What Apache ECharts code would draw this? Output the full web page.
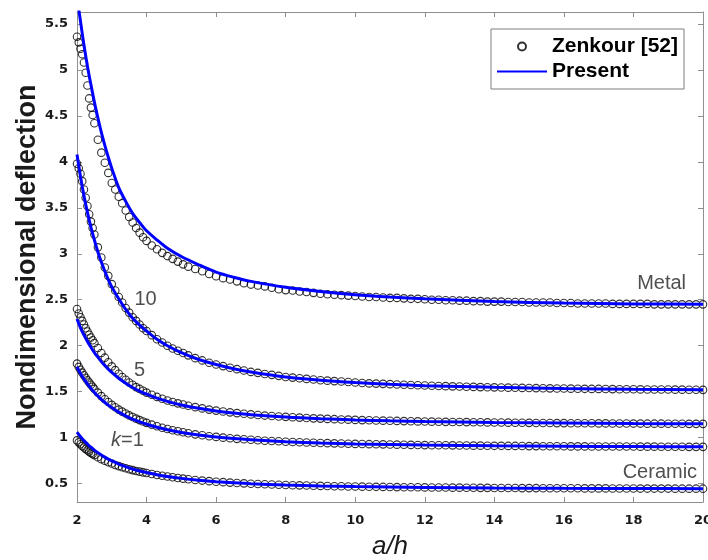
<!DOCTYPE html>
<html>
<head>
<meta charset="utf-8">
<script src="https://cdn.jsdelivr.net/npm/echarts@6/dist/echarts.min.js"></script>
<style>
  html, body { margin: 0; padding: 0; background: #fff; }
  #chart { width: 708px; height: 560px; }
</style>
</head>
<body>
<div id="chart"></div>
<script>
// a/h positions of the Zenkour [52] markers (shared by all five curves)
const markerX = [
  2, 2.05, 2.1, 2.15, 2.2, 2.25, 2.3, 2.35, 2.4, 2.45, 2.5,
  2.6, 2.7, 2.8, 2.9, 3, 3.1, 3.2, 3.3, 3.4, 3.5, 3.6, 3.7, 3.8, 3.9, 4,
  4.15, 4.3, 4.45, 4.6, 4.75, 4.9, 5.05, 5.2,
  5.4, 5.6, 5.8, 6, 6.2, 6.4, 6.6, 6.8, 7, 7.2,
  7.4, 7.6, 7.8, 8, 8.2, 8.4, 8.6, 8.8, 9, 9.2,
  9.4, 9.6, 9.8, 10, 10.2, 10.4, 10.6, 10.8, 11, 11.2,
  11.4, 11.6, 11.8, 12, 12.2, 12.4, 12.6, 12.8, 13, 13.2,
  13.4, 13.6, 13.8, 14, 14.2, 14.4, 14.6, 14.8, 15, 15.2,
  15.4, 15.6, 15.8, 16, 16.2, 16.4, 16.6, 16.8, 17, 17.2,
  17.4, 17.6, 17.8, 18, 18.2, 18.4, 18.6, 18.8, 19, 19.2,
  19.4, 19.6, 19.8, 20
]

const metalPts = [
  5.36, 5.30, 5.23, 5.17, 5.08, 4.97, 4.83, 4.69, 4.59, 4.51, 4.42,
  4.24, 4.10, 3.99, 3.88, 3.77, 3.70, 3.62, 3.55, 3.47, 3.40, 3.34, 3.28, 3.23, 3.18, 3.14,
  3.09, 3.05, 3.01, 2.975, 2.945, 2.915, 2.885, 2.86,
  2.835, 2.81, 2.78, 2.755, 2.735, 2.72, 2.70, 2.68, 2.665, 2.655,
  2.645, 2.63, 2.615, 2.605, 2.60, 2.59, 2.585, 2.575, 2.565, 2.56,
  2.555, 2.55, 2.545, 2.54, 2.535, 2.53, 2.53, 2.525, 2.52, 2.52,
  2.515, 2.51, 2.51, 2.505, 2.50, 2.50, 2.495, 2.495, 2.49, 2.49,
  2.485, 2.485, 2.48, 2.48, 2.48, 2.475, 2.475, 2.475, 2.47, 2.47,
  2.47, 2.47, 2.465, 2.465, 2.465, 2.46, 2.46, 2.46, 2.46, 2.46,
  2.455, 2.455, 2.455, 2.455, 2.455, 2.455, 2.45, 2.45, 2.45, 2.45,
  2.45, 2.45, 2.45, 2.45
]

const k10Pts = [
  3.98, 3.93, 3.87, 3.79, 3.70, 3.61, 3.52, 3.43, 3.35, 3.28, 3.21,
  3.07, 2.96, 2.85, 2.76, 2.67, 2.60, 2.53, 2.47, 2.41, 2.36, 2.31, 2.27, 2.23, 2.19, 2.16,
  2.115, 2.07, 2.035, 2.00, 1.97, 1.945, 1.92, 1.895,
  1.865, 1.84, 1.815, 1.795, 1.778, 1.76, 1.745, 1.73, 1.715, 1.705,
  1.693, 1.683, 1.672, 1.66, 1.653, 1.646, 1.639, 1.632, 1.625, 1.62,
  1.615, 1.61, 1.605, 1.60, 1.595, 1.59, 1.588, 1.585, 1.582, 1.578,
  1.575, 1.572, 1.57, 1.567, 1.565, 1.562, 1.56, 1.558, 1.556, 1.554,
  1.552, 1.55, 1.549, 1.547, 1.545, 1.544, 1.543, 1.541, 1.54, 1.539,
  1.538, 1.536, 1.535, 1.534, 1.533, 1.532, 1.531, 1.53, 1.53, 1.529,
  1.528, 1.527, 1.527, 1.526, 1.525, 1.524, 1.524, 1.523, 1.523, 1.522,
  1.522, 1.521, 1.521, 1.52
]

const k5Pts = [
  2.40, 2.35, 2.31, 2.27, 2.23, 2.19, 2.155, 2.12, 2.09, 2.06, 2.03,
  1.975, 1.92, 1.87, 1.82, 1.775, 1.735, 1.695, 1.66, 1.63, 1.60, 1.575, 1.55, 1.53, 1.51, 1.49,
  1.466, 1.443, 1.423, 1.404, 1.388, 1.373, 1.36, 1.347,
  1.332, 1.318, 1.305, 1.294, 1.284, 1.275, 1.267, 1.26, 1.253, 1.246,
  1.24, 1.235, 1.23, 1.226, 1.222, 1.218, 1.214, 1.21, 1.207, 1.204,
  1.201, 1.198, 1.196, 1.193, 1.191, 1.189, 1.187, 1.185, 1.183, 1.182,
  1.18, 1.178, 1.177, 1.175, 1.174, 1.173, 1.172, 1.171, 1.17, 1.169,
  1.168, 1.167, 1.166, 1.165, 1.164, 1.163, 1.162, 1.162, 1.161, 1.16,
  1.16, 1.159, 1.158, 1.158, 1.157, 1.157, 1.156, 1.156, 1.155, 1.155,
  1.154, 1.154, 1.154, 1.153, 1.153, 1.152, 1.152, 1.152, 1.151, 1.151,
  1.151, 1.15, 1.15, 1.15
]

const k2Pts = [
  1.805, 1.77, 1.738, 1.707, 1.678, 1.651, 1.625, 1.60, 1.576, 1.553, 1.53,
  1.49, 1.452, 1.418, 1.387, 1.357, 1.33, 1.305, 1.283, 1.262, 1.242, 1.224, 1.207, 1.191, 1.176, 1.161,
  1.142, 1.124, 1.108, 1.094, 1.081, 1.069, 1.058, 1.048,
  1.036, 1.026, 1.016, 1.008, 1.00, 0.993, 0.987, 0.982, 0.977, 0.972,
  0.967, 0.963, 0.96, 0.956, 0.953, 0.95, 0.947, 0.945, 0.942, 0.94,
  0.938, 0.936, 0.934, 0.932, 0.931, 0.929, 0.928, 0.927, 0.925, 0.924,
  0.923, 0.921, 0.92, 0.919, 0.918, 0.917, 0.917, 0.916, 0.915, 0.914,
  0.913, 0.913, 0.912, 0.911, 0.911, 0.91, 0.91, 0.909, 0.908, 0.908,
  0.907, 0.907, 0.906, 0.906, 0.905, 0.905, 0.905, 0.904, 0.904, 0.904,
  0.903, 0.903, 0.903, 0.903, 0.902, 0.902, 0.902, 0.901, 0.901, 0.901,
  0.901, 0.90, 0.90, 0.90
]

const ceramicPts = [
  0.97, 0.949, 0.928, 0.909, 0.893, 0.877, 0.862, 0.848, 0.834, 0.822, 0.81,
  0.787, 0.766, 0.748, 0.732, 0.718, 0.703, 0.69, 0.678, 0.667, 0.657, 0.647, 0.638, 0.63, 0.622, 0.615,
  0.604, 0.594, 0.585, 0.577, 0.569, 0.561, 0.554, 0.548,
  0.54, 0.533, 0.527, 0.521, 0.516, 0.511, 0.507, 0.503, 0.499, 0.496,
  0.493, 0.49, 0.488, 0.485, 0.483, 0.481, 0.479, 0.477, 0.475, 0.474,
  0.472, 0.471, 0.469, 0.468, 0.467, 0.466, 0.465, 0.464, 0.463, 0.462,
  0.461, 0.46, 0.46, 0.459, 0.458, 0.457, 0.457, 0.456, 0.456, 0.455,
  0.455, 0.454, 0.454, 0.453, 0.453, 0.452, 0.452, 0.451, 0.451, 0.451,
  0.45, 0.45, 0.45, 0.449, 0.449, 0.449, 0.448, 0.448, 0.448, 0.448,
  0.447, 0.447, 0.447, 0.447, 0.446, 0.446, 0.446, 0.446, 0.446, 0.445,
  0.445, 0.445, 0.445, 0.445
]

// a/h positions for the "Present" curves
const lineX = [
  2, 2.1, 2.2, 2.3, 2.4, 2.5, 2.6, 2.7, 2.8, 2.9, 3,
  3.2, 3.4, 3.6, 3.8, 4, 4.3, 4.6, 5, 5.5, 6, 6.5, 7,
  8, 9, 10, 11, 12, 14, 16, 18, 20
]

const metalLine = [
  5.80, 5.53, 5.27, 5.04, 4.84, 4.65, 4.48, 4.32, 4.18, 4.05, 3.93,
  3.72, 3.57, 3.44, 3.34, 3.25, 3.15, 3.06, 2.97, 2.88, 2.80, 2.745, 2.70,
  2.635, 2.59, 2.555, 2.53, 2.51, 2.48, 2.465, 2.455, 2.45
]
const k10Line = [
  4.08, 3.84, 3.63, 3.45, 3.29, 3.15, 3.02, 2.91, 2.81, 2.72, 2.64,
  2.51, 2.395, 2.30, 2.225, 2.16, 2.07, 2.00, 1.925, 1.85, 1.795, 1.75, 1.715,
  1.66, 1.625, 1.60, 1.58, 1.565, 1.547, 1.534, 1.526, 1.52
]
const k5Line = [
  2.29, 2.195, 2.117, 2.047, 1.983, 1.926, 1.875, 1.827, 1.784, 1.745, 1.709,
  1.646, 1.592, 1.546, 1.507, 1.473, 1.43, 1.394, 1.356, 1.319, 1.29, 1.268, 1.25,
  1.224, 1.206, 1.193, 1.183, 1.175, 1.165, 1.158, 1.153, 1.15
]
const k2Line = [
  1.77, 1.698, 1.638, 1.585, 1.536, 1.492, 1.453, 1.417, 1.384, 1.354, 1.327,
  1.278, 1.237, 1.202, 1.173, 1.146, 1.113, 1.086, 1.057, 1.029, 1.007, 0.99, 0.977,
  0.956, 0.942, 0.932, 0.925, 0.919, 0.911, 0.906, 0.903, 0.90
]
const ceramicLine = [
  1.06, 1.011, 0.968, 0.931, 0.896, 0.865, 0.837, 0.811, 0.788, 0.767, 0.748,
  0.713, 0.684, 0.659, 0.638, 0.62, 0.596, 0.577, 0.557, 0.537, 0.521, 0.509, 0.499,
  0.485, 0.475, 0.468, 0.463, 0.459, 0.453, 0.449, 0.447, 0.445
]

const yTicks = [0.5, 1, 1.5, 2, 2.5, 3, 3.5, 4, 4.5, 5, 5.5]

// curve labels placed in data coordinates [text, a/h, deflection]
const notes = [
  ['Metal', 18.81, 2.68],
  ['Ceramic', 18.76, 0.62],
  ['10', 3.97, 2.5],
  ['5', 3.8, 1.73],
  ['k=1', 3.45, 0.97]
]

const zip = (xa, ya) => xa.map((x, i) => [x, ya[i]])

const axisGray = '#8f8f8f'
const tickFont = { fontFamily: 'DejaVu Sans', fontWeight: 'bold', fontSize: 13, color: '#1a1a1a' }

const dotSeries = [metalPts, k10Pts, k5Pts, k2Pts, ceramicPts].map(ys => ({
  type: 'scatter',
  name: 'Zenkour [52]',
  data: zip(markerX, ys),
  symbol: 'circle',
  symbolSize: 7.5,
  itemStyle: { color: 'rgba(0,0,0,0)', borderColor: '#000', borderWidth: 1.1 },
  silent: true,
  z: 2,
}))

const lineSeries = [metalLine, k10Line, k5Line, k2Line, ceramicLine].map(ys => ({
  type: 'line',
  name: 'Present',
  data: zip(lineX, ys),
  symbol: 'none',
  smooth: 0.3,
  color: '#0000ff',
  lineStyle: { color: '#0000ff', width: 3 },
  silent: true,
  z: 3,
}))

const noteSeries = {
  type: 'scatter',
  name: 'notes',
  symbolSize: 1,
  itemStyle: { color: 'rgba(0,0,0,0)' },
  silent: true,
  z: 4,
  data: notes.map(n => ({ name: n[0], value: [n[1], n[2]] })),
  label: {
    show: true,
    position: 'inside',
    fontFamily: 'Liberation Sans',
    fontSize: 20,
    color: '#222',
    formatter: p => (p.name === 'k=1' ? '{i|k}=1' : p.name),
    rich: { i: { fontFamily: 'Liberation Sans', fontStyle: 'italic', fontSize: 20, color: '#222' } },
  },
}

const chart = echarts.init(document.getElementById('chart'), null, { renderer: 'canvas' })

chart.setOption({
  animation: false,
  backgroundColor: '#fff',
  grid: { left: 77, right: 5, top: 12, bottom: 58, containLabel: false, outerBoundsMode: 'none' },
  legend: {
    data: [
      { name: 'Zenkour [52]' },
      { name: 'Present', itemStyle: { opacity: 0 } },
    ],
    orient: 'vertical',
    left: 491,
    top: 29,
    itemWidth: 50,
    itemHeight: 8,
    itemGap: 4,
    padding: [7, 6, 7, 5],
    borderColor: '#7f7f7f',
    borderWidth: 1,
    backgroundColor: '#fff',
    selectedMode: false,
    textStyle: { fontFamily: 'Liberation Sans', fontWeight: 'bold', fontSize: 21, lineHeight: 21, color: '#000' },
  },
  xAxis: [
    {
      type: 'value', min: 2, max: 20, interval: 2, position: 'bottom',
      name: 'a/h', nameLocation: 'middle', nameGap: 32,
      nameTextStyle: { fontFamily: 'Liberation Sans', fontStyle: 'italic', fontSize: 26, color: '#1a1a1a' },
      axisLine: { lineStyle: { color: axisGray, width: 1 } },
      axisTick: { inside: true, length: 5, lineStyle: { color: axisGray } },
      axisLabel: Object.assign({ margin: 12 }, tickFont),
      splitLine: { show: false },
    },
    {
      type: 'value', min: 2, max: 20, interval: 2, position: 'top',
      axisLine: { lineStyle: { color: axisGray, width: 1 } },
      axisTick: { inside: true, length: 5, lineStyle: { color: axisGray } },
      axisLabel: { show: false },
      splitLine: { show: false },
    },
  ],
  yAxis: [
    {
      type: 'value', min: 0.3, max: 5.63, position: 'left',
      name: 'Nondimensional deflection', nameLocation: 'middle', nameGap: 36, nameMoveOverlap: false,
      nameTextStyle: { fontFamily: 'Liberation Sans', fontWeight: 'bold', fontSize: 27, color: '#1a1a1a' },
      axisLine: { show: true, lineStyle: { color: axisGray, width: 1 } },
      axisTick: { show: true, inside: true, length: 5, customValues: yTicks, lineStyle: { color: axisGray } },
      axisLabel: Object.assign({ margin: 9, customValues: yTicks }, tickFont),
      splitLine: { show: false },
    },
    {
      type: 'value', min: 0.3, max: 5.63, position: 'right',
      axisLine: { show: true, lineStyle: { color: axisGray, width: 1 } },
      axisTick: { show: true, inside: true, length: 5, customValues: yTicks, lineStyle: { color: axisGray } },
      axisLabel: { show: false },
      splitLine: { show: false },
    },
  ],
  series: [...dotSeries, ...lineSeries, noteSeries],
})
</script>
</body>
</html>
